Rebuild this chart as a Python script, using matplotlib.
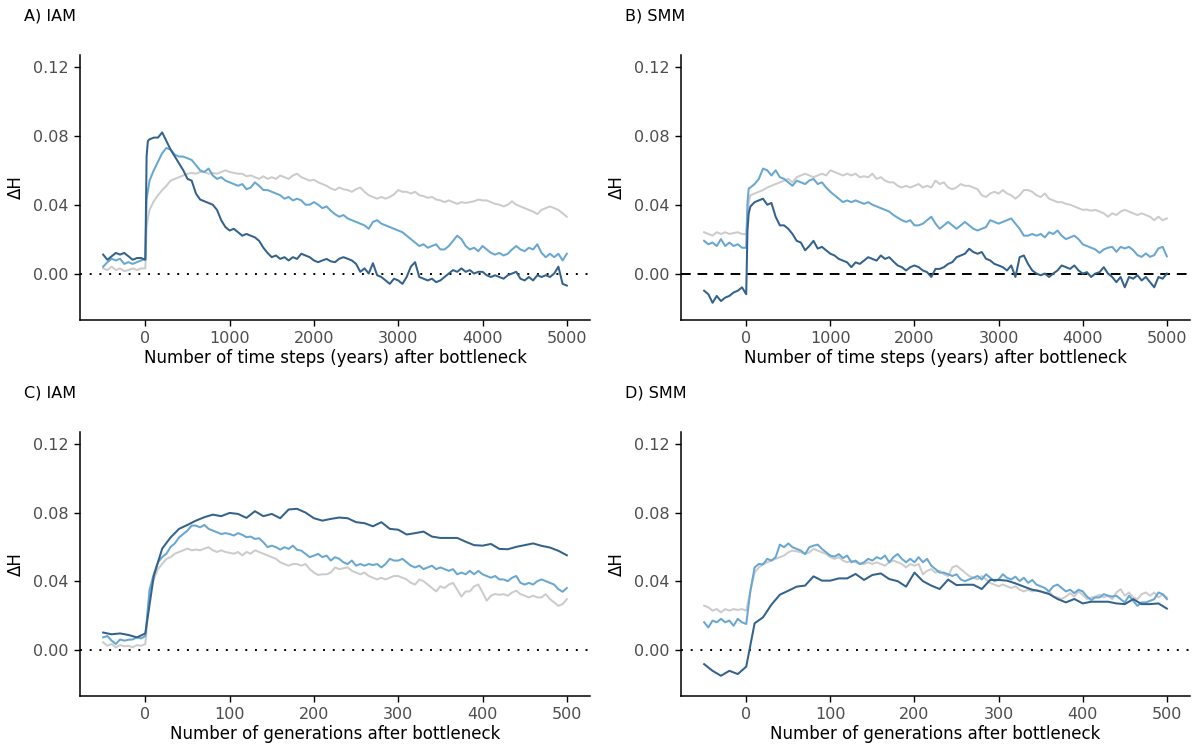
import numpy as np
import matplotlib
matplotlib.use("Agg")
import matplotlib.pyplot as plt

# ---------------- x grids ----------------
years = np.concatenate([np.arange(-500, 1, 50), [15, 30], np.arange(50, 5001, 50)])
gens5 = np.arange(-50, 501, 5)
gens10 = np.arange(-50, 501, 10)

# ---------------- Panel A (IAM, years) ----------------
a_dark = [0.011, 0.008, 0.010, 0.012, 0.011, 0.012, 0.010, 0.008, 0.009, 0.009, 0.008,
          0.068, 0.077,
          0.078, 0.079, 0.079, 0.082, 0.077, 0.072, 0.068, 0.064, 0.060, 0.055,
          0.054, 0.0465, 0.043, 0.042, 0.041, 0.040, 0.037, 0.031, 0.027, 0.025,
          0.026, 0.024, 0.022, 0.023, 0.022, 0.021, 0.019, 0.015, 0.012, 0.0095,
          0.0105, 0.0085, 0.0095, 0.0076, 0.0095, 0.0085, 0.0115, 0.0105, 0.0095, 0.0076,
          0.0066, 0.0076, 0.0085, 0.0071, 0.0066, 0.0086, 0.0095, 0.0086, 0.0076, 0.0056,
          0.001, 0.003, 0.000, 0.006, -0.001, -0.002, -0.004, -0.006, -0.003, -0.004,
          -0.006, -0.002, 0.004, 0.0066, -0.002, -0.003, -0.004, -0.003, -0.005, -0.004,
          -0.002, 0.000, 0.002, 0.001, 0.003, 0.001, 0.002, 0.000, 0.001, 0.001,
          -0.001, -0.002, -0.001, -0.002, -0.003, -0.001, 0.000, 0.001, -0.003, -0.004,
          -0.002, -0.004, -0.001, -0.002, -0.001, -0.002, 0.000, 0.004, -0.006, -0.007]
a_light = [0.004, 0.0066, 0.0086, 0.0076, 0.0086, 0.0056, 0.0066, 0.0056, 0.0066, 0.0076, 0.0086,
           0.043, 0.048,
           0.054, 0.060, 0.065, 0.070, 0.073, 0.072, 0.069, 0.068, 0.068, 0.067,
           0.066, 0.063, 0.060, 0.059, 0.061, 0.057, 0.055, 0.056, 0.054, 0.053,
           0.052, 0.051, 0.052, 0.049, 0.050, 0.053, 0.051, 0.0485, 0.0485, 0.0475,
           0.0465, 0.0455, 0.0435, 0.0445, 0.0425, 0.0435, 0.0425, 0.040, 0.040, 0.0415,
           0.040, 0.038, 0.039, 0.0365, 0.0345, 0.033, 0.034, 0.032, 0.031, 0.030,
           0.029, 0.028, 0.026, 0.030, 0.031, 0.029, 0.028, 0.027, 0.026, 0.025,
           0.024, 0.022, 0.020, 0.018, 0.016, 0.017, 0.015, 0.016, 0.017, 0.014,
           0.014, 0.016, 0.019, 0.022, 0.020, 0.016, 0.014, 0.015, 0.013, 0.016,
           0.014, 0.012, 0.011, 0.012, 0.0105, 0.0115, 0.014, 0.016, 0.014, 0.013,
           0.015, 0.014, 0.017, 0.012, 0.0095, 0.0115, 0.0095, 0.0115, 0.0076, 0.0115]
a_grey = [0.003, 0.002, 0.004, 0.002, 0.003, 0.0014, 0.002, 0.003, 0.002, 0.003, 0.003,
          0.027, 0.032,
          0.037, 0.042, 0.0455, 0.0485, 0.051, 0.054, 0.055, 0.056, 0.057, 0.058,
          0.0585, 0.058, 0.059, 0.059, 0.058, 0.0585, 0.058, 0.059, 0.060, 0.059,
          0.0585, 0.058, 0.058, 0.0565, 0.057, 0.056, 0.055, 0.0565, 0.055, 0.056,
          0.055, 0.057, 0.056, 0.055, 0.057, 0.058, 0.056, 0.055, 0.054, 0.0545,
          0.053, 0.052, 0.051, 0.0495, 0.0485, 0.050, 0.049, 0.0485, 0.0475, 0.049,
          0.050, 0.0475, 0.0455, 0.0445, 0.0435, 0.0445, 0.0435, 0.0445, 0.046, 0.0485,
          0.0475, 0.0475, 0.0465, 0.0475, 0.0455, 0.045, 0.044, 0.0445, 0.043, 0.0425,
          0.0415, 0.0425, 0.0415, 0.0405, 0.0415, 0.041, 0.0415, 0.042, 0.043, 0.0425,
          0.0425, 0.0415, 0.0405, 0.040, 0.039, 0.040, 0.042, 0.040, 0.039, 0.038,
          0.037, 0.036, 0.0345, 0.037, 0.038, 0.039, 0.038, 0.037, 0.035, 0.033]

# ---------------- Panel B (SMM, years) ----------------
b_dark = [-0.010, -0.012, -0.017, -0.013, -0.016, -0.014, -0.013, -0.011, -0.010, -0.008, -0.012,
          0.025, 0.035,
          0.039, 0.0415, 0.0425, 0.0435, 0.040, 0.041, 0.033, 0.028, 0.028, 0.026,
          0.023, 0.019, 0.018, 0.0135, 0.016, 0.019, 0.0145, 0.0155, 0.0135, 0.0115,
          0.0105, 0.0085, 0.0075, 0.0065, 0.0037, 0.0065, 0.0056, 0.0075, 0.0095, 0.0085,
          0.0075, 0.0105, 0.0085, 0.0095, 0.007, 0.0047, 0.0037, 0.0018, 0.0037, 0.0047,
          0.0037, 0.0018, 0.0008, -0.002, 0.0027, 0.0027, 0.0037, 0.0056, 0.0066, 0.0095,
          0.0105, 0.0115, 0.0144, 0.0125, 0.0115, 0.0125, 0.0086, 0.0076, 0.0056, 0.0047,
          0.0037, 0.0018, 0.0047, -0.002, 0.0095, 0.0105, 0.0056, 0.0018, 0.000, -0.001,
          0.000, -0.002, 0.000, 0.0018, 0.0047, 0.0037, 0.0027, 0.0047, 0.0018, 0.000,
          0.0008, -0.002, 0.000, 0.0008, 0.0037, 0.000, -0.002, -0.005, -0.002, -0.008,
          -0.002, -0.003, -0.001, -0.004, -0.002, -0.005, -0.008, -0.002, -0.003, 0.000]
b_light = [0.019, 0.017, 0.018, 0.016, 0.020, 0.016, 0.018, 0.016, 0.017, 0.015, 0.015,
           0.041, 0.0495,
           0.050, 0.052, 0.055, 0.061, 0.060, 0.057, 0.060, 0.056, 0.055, 0.053,
           0.051, 0.054, 0.053, 0.052, 0.054, 0.055, 0.052, 0.053, 0.050, 0.0475,
           0.0455, 0.0435, 0.0415, 0.0425, 0.0415, 0.0425, 0.0415, 0.0405, 0.0415, 0.040,
           0.039, 0.038, 0.037, 0.036, 0.034, 0.0325, 0.031, 0.030, 0.031, 0.028,
           0.028, 0.029, 0.031, 0.033, 0.029, 0.026, 0.028, 0.030, 0.028, 0.026,
           0.028, 0.030, 0.028, 0.026, 0.025, 0.026, 0.027, 0.031, 0.030, 0.029,
           0.030, 0.031, 0.032, 0.029, 0.026, 0.022, 0.022, 0.023, 0.022, 0.023,
           0.021, 0.024, 0.023, 0.025, 0.022, 0.020, 0.021, 0.022, 0.020, 0.017,
           0.016, 0.015, 0.014, 0.012, 0.014, 0.015, 0.0155, 0.0126, 0.0155, 0.0146,
           0.0155, 0.0136, 0.0107, 0.0097, 0.0117, 0.0097, 0.0107, 0.0146, 0.0155, 0.010]
b_grey = [0.024, 0.023, 0.022, 0.024, 0.023, 0.024, 0.023, 0.0235, 0.024, 0.023, 0.0228,
          0.035, 0.0415,
          0.0455, 0.0465, 0.0475, 0.0485, 0.050, 0.051, 0.052, 0.053, 0.054, 0.055,
          0.053, 0.056, 0.057, 0.058, 0.057, 0.056, 0.057, 0.058, 0.057, 0.060,
          0.059, 0.058, 0.057, 0.058, 0.057, 0.058, 0.056, 0.0565, 0.056, 0.058,
          0.055, 0.056, 0.054, 0.053, 0.053, 0.051, 0.050, 0.051, 0.050, 0.051,
          0.052, 0.050, 0.051, 0.050, 0.054, 0.052, 0.053, 0.050, 0.049, 0.050,
          0.052, 0.051, 0.051, 0.050, 0.049, 0.0455, 0.0445, 0.0465, 0.0475, 0.0465,
          0.0485, 0.0465, 0.0455, 0.0435, 0.0455, 0.0485, 0.0485, 0.0475, 0.0455, 0.0445,
          0.0465, 0.0435, 0.0425, 0.0415, 0.0415, 0.0405, 0.040, 0.039, 0.038, 0.037,
          0.0372, 0.0365, 0.037, 0.036, 0.035, 0.033, 0.035, 0.034, 0.036, 0.037,
          0.036, 0.035, 0.034, 0.035, 0.034, 0.033, 0.031, 0.033, 0.031, 0.032]

# ---------------- Panel C (IAM, generations) ----------------
c_dark = [0.010, 0.009, 0.0095, 0.0086, 0.0072, 0.0095,
          0.043, 0.059, 0.0655, 0.0705, 0.0728, 0.0753, 0.0773, 0.0788, 0.0779, 0.0798,
          0.0792, 0.0769, 0.0808, 0.0779, 0.0792, 0.0767, 0.0818, 0.0822, 0.080, 0.0767,
          0.0753, 0.0763, 0.0771, 0.0767, 0.0744, 0.0738, 0.072, 0.0744, 0.0705, 0.070,
          0.0672, 0.068, 0.0689, 0.066, 0.0652, 0.0652, 0.0652, 0.063, 0.061, 0.0607,
          0.0617, 0.0588, 0.0586, 0.060, 0.061, 0.062, 0.0606, 0.0596, 0.0577, 0.0551]
c_light = [0.0072, 0.008, 0.0053, 0.0033, 0.006, 0.0053, 0.0058, 0.006, 0.0072, 0.0066, 0.008,
           0.035, 0.044, 0.051, 0.054, 0.056, 0.060, 0.062, 0.0655, 0.0675, 0.0695,
           0.0724, 0.0724, 0.0714, 0.0728, 0.0705, 0.0695, 0.0685, 0.0675, 0.068, 0.0675,
           0.0666, 0.068, 0.067, 0.0656, 0.066, 0.0646, 0.065, 0.0627, 0.0598, 0.0607,
           0.0598, 0.0584, 0.0598, 0.0588, 0.0607, 0.0583, 0.0578, 0.0559, 0.054, 0.0549,
           0.0559, 0.054, 0.0549, 0.052, 0.054, 0.053, 0.051, 0.050, 0.052, 0.049,
           0.050, 0.049, 0.050, 0.0494, 0.050, 0.048, 0.050, 0.053, 0.052, 0.052,
           0.053, 0.051, 0.049, 0.048, 0.049, 0.047, 0.048, 0.049, 0.047, 0.048,
           0.047, 0.046, 0.047, 0.044, 0.045, 0.044, 0.046, 0.044, 0.046, 0.044,
           0.043, 0.042, 0.043, 0.041, 0.041, 0.040, 0.042, 0.043, 0.039, 0.038,
           0.039, 0.038, 0.040, 0.041, 0.040, 0.039, 0.038, 0.0353, 0.0338, 0.036]
c_grey = [0.0043, 0.0023, 0.0033, 0.0014, 0.0027, 0.002, 0.0023, 0.0014, 0.0027, 0.0023, 0.0033,
          0.0335, 0.041, 0.047, 0.050, 0.053, 0.054, 0.056, 0.057, 0.058, 0.059,
          0.058, 0.0584, 0.058, 0.059, 0.0598, 0.058, 0.057, 0.058, 0.057, 0.0565,
          0.056, 0.057, 0.055, 0.057, 0.056, 0.058, 0.057, 0.056, 0.055, 0.054,
          0.053, 0.051, 0.050, 0.049, 0.050, 0.050, 0.049, 0.050, 0.047, 0.045,
          0.0436, 0.044, 0.044, 0.045, 0.048, 0.047, 0.0475, 0.048, 0.046, 0.045,
          0.044, 0.045, 0.043, 0.042, 0.041, 0.042, 0.041, 0.042, 0.043, 0.043,
          0.042, 0.041, 0.039, 0.038, 0.041, 0.040, 0.038, 0.036, 0.034, 0.037,
          0.036, 0.038, 0.039, 0.035, 0.031, 0.034, 0.034, 0.037, 0.038, 0.0335,
          0.0286, 0.0315, 0.0325, 0.032, 0.0324, 0.0315, 0.0334, 0.0344, 0.0324, 0.0315,
          0.0305, 0.0315, 0.0305, 0.0305, 0.0324, 0.0295, 0.0276, 0.0256, 0.0266, 0.0295]

# ---------------- Panel D (SMM, generations) ----------------
d_dark = [-0.0084, -0.0123, -0.0152, -0.0123, -0.0142, -0.0099,
          0.0154, 0.0189, 0.0263, 0.0321, 0.0344, 0.0368, 0.0374, 0.0428, 0.0403, 0.0403,
          0.0416, 0.0416, 0.0442, 0.0407, 0.0436, 0.0445, 0.0412, 0.040, 0.0368, 0.045,
          0.040, 0.0374, 0.0354, 0.0409, 0.0377, 0.0379, 0.0379, 0.0354, 0.0407, 0.0407,
          0.0403, 0.0387, 0.0368, 0.035, 0.034, 0.0325, 0.0296, 0.0276, 0.0296, 0.027,
          0.028, 0.028, 0.028, 0.027, 0.0266, 0.0295, 0.0266, 0.0266, 0.027, 0.024]
d_light = [0.016, 0.013, 0.017, 0.016, 0.018, 0.016, 0.017, 0.014, 0.018, 0.016, 0.015,
           0.0344, 0.048, 0.050, 0.0498, 0.053, 0.052, 0.054, 0.0613, 0.0598, 0.062,
           0.0598, 0.0588, 0.0578, 0.0558, 0.0598, 0.0607, 0.0613, 0.0588, 0.0568, 0.0549,
           0.0543, 0.0558, 0.0535, 0.0549, 0.051, 0.052, 0.050, 0.051, 0.053, 0.052,
           0.054, 0.053, 0.0549, 0.051, 0.054, 0.0558, 0.053, 0.051, 0.053, 0.051,
           0.054, 0.051, 0.053, 0.049, 0.047, 0.045, 0.045, 0.044, 0.043, 0.044,
           0.041, 0.040, 0.041, 0.042, 0.043, 0.041, 0.044, 0.042, 0.040, 0.041,
           0.044, 0.042, 0.041, 0.0426, 0.040, 0.042, 0.039, 0.0407, 0.038, 0.037,
           0.036, 0.034, 0.037, 0.038, 0.036, 0.034, 0.035, 0.033, 0.035, 0.034,
           0.031, 0.029, 0.0305, 0.0305, 0.0324, 0.0315, 0.031, 0.0315, 0.0295, 0.0276,
           0.0315, 0.0285, 0.0256, 0.0276, 0.0276, 0.0285, 0.0295, 0.0334, 0.0324, 0.0295]
d_grey = [0.0257, 0.0247, 0.0228, 0.0237, 0.0218, 0.0237, 0.0228, 0.0237, 0.0232, 0.0237, 0.0228,
          0.0344, 0.045, 0.048, 0.0498, 0.051, 0.052, 0.053, 0.054, 0.0549, 0.0568,
          0.0578, 0.0574, 0.0568, 0.0558, 0.0568, 0.0588, 0.0578, 0.0568, 0.0558, 0.054,
          0.053, 0.054, 0.052, 0.051, 0.052, 0.051, 0.050, 0.050, 0.051, 0.050,
          0.051, 0.050, 0.049, 0.051, 0.052, 0.051, 0.050, 0.048, 0.050, 0.049,
          0.050, 0.044, 0.046, 0.047, 0.045, 0.046, 0.044, 0.043, 0.048, 0.049,
          0.047, 0.045, 0.043, 0.042, 0.041, 0.043, 0.041, 0.039, 0.038, 0.037,
          0.038, 0.037, 0.036, 0.037, 0.035, 0.034, 0.035, 0.034, 0.035, 0.034,
          0.033, 0.034, 0.031, 0.0305, 0.0296, 0.031, 0.033, 0.031, 0.034, 0.032,
          0.0296, 0.0305, 0.031, 0.032, 0.0305, 0.0315, 0.0295, 0.0334, 0.0353, 0.0315,
          0.0334, 0.0305, 0.0295, 0.0324, 0.0334, 0.0315, 0.0334, 0.0305, 0.0324, 0.0305]

titles = ["A) IAM", "B) SMM", "C) IAM", "D) SMM"]
xlabel_years = "Number of time steps (years) after bottleneck"
xlabel_gens = "Number of generations after bottleneck"
yticks = [0.00, 0.04, 0.08, 0.12]

GREY = "#CCCCCC"
LIGHT = "#67A7D1"
DARK = "#33628C"

W, H = 1199, 749
fig = plt.figure(figsize=(W / 100, H / 100), dpi=100)


def make_ax(left_px, top_px, right_px, bottom_px):
    return fig.add_axes([left_px / W, 1 - bottom_px / H,
                         (right_px - left_px) / W, (bottom_px - top_px) / H])


panels = [
    dict(box=(80, 55, 590, 320), title=titles[0], xl=xlabel_years, xlim=(-775, 5275),
         xt=[0, 1000, 2000, 3000, 4000, 5000], zero=(0, (1, 4)),
         series=[(years, a_grey, GREY), (years, a_light, LIGHT), (years, a_dark, DARK)]),
    dict(box=(681, 55, 1190, 320), title=titles[1], xl=xlabel_years, xlim=(-775, 5275),
         xt=[0, 1000, 2000, 3000, 4000, 5000], zero=(0, (5, 3.5)),
         series=[(years, b_grey, GREY), (years, b_light, LIGHT), (years, b_dark, DARK)]),
    dict(box=(80, 432, 590, 696), title=titles[2], xl=xlabel_gens, xlim=(-77.5, 527.5),
         xt=[0, 100, 200, 300, 400, 500], zero=(0, (1, 4)),
         series=[(gens5, c_grey, GREY), (gens5, c_light, LIGHT), (gens10, c_dark, DARK)]),
    dict(box=(681, 432, 1190, 696), title=titles[3], xl=xlabel_gens, xlim=(-77.5, 527.5),
         xt=[0, 100, 200, 300, 400, 500], zero=(0, (1, 4)),
         series=[(gens5, d_grey, GREY), (gens5, d_light, LIGHT), (gens10, d_dark, DARK)]),
]

for p in panels:
    ax = make_ax(*p["box"])
    for xs, ys, col in p["series"]:
        assert len(xs) == len(ys), (len(xs), len(ys))
        ax.plot(xs, ys, color=col, lw=1.45, solid_joinstyle="round", zorder=3)
    ax.axhline(0, color="black", lw=1.4, linestyle=p["zero"], zorder=2)
    ax.set_xlim(*p["xlim"])
    ax.set_ylim(-0.027, 0.127)
    ax.set_xticks(p["xt"])
    ax.set_yticks(yticks)
    ax.set_yticklabels([f"{v:.2f}" for v in yticks])
    for s in ["top", "right"]:
        ax.spines[s].set_visible(False)
    for s in ["left", "bottom"]:
        ax.spines[s].set_linewidth(1.1)
        ax.spines[s].set_color("black")
    ax.tick_params(axis="both", direction="out", length=4, width=1.0, color="black",
                   labelsize=11.5, labelcolor="#4D4D4D", pad=4)
    ax.set_xlabel(p["xl"], fontsize=12, color="black", labelpad=2)
    ax.set_ylabel("ΔH", fontsize=12, color="black", labelpad=6)
    l, t, r, b = p["box"]
    fig.text((l - 56) / W, 1 - (t - 39) / H, p["title"], fontsize=11.5,
             ha="left", va="center", color="black")

fig.savefig("out.png", dpi=100, facecolor="white")
